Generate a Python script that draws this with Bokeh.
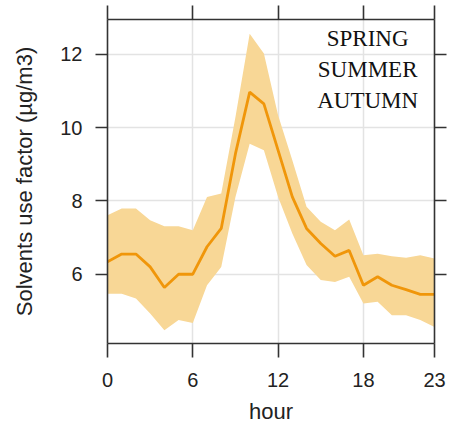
from bokeh.plotting import figure
from bokeh.models import LinearAxis, FixedTicker, Range1d, ColumnDataSource, Label, CustomJSTickFormatter
from bokeh.embed import file_html
from bokeh.resources import INLINE

hours = list(range(24))
mean_vals = [6.34, 6.55, 6.55, 6.2, 5.64, 6.0, 6.0, 6.75, 7.25, 9.29, 10.97, 10.65,
             9.38, 8.11, 7.25, 6.84, 6.49, 6.65, 5.7, 5.93, 5.7, 5.58, 5.45, 5.45]
upper_vals = [7.61, 7.79, 7.79, 7.47, 7.31, 7.31, 7.2, 8.11, 8.2, 10.29, 12.56, 12.02,
              10.34, 9.11, 7.84, 7.43, 7.2, 7.49, 6.52, 6.56, 6.49, 6.45, 6.52, 6.43]
lower_vals = [5.47, 5.47, 5.34, 4.93, 4.47, 4.75, 4.67, 5.7, 6.2, 8.11, 9.56, 9.38,
              8.11, 7.11, 6.25, 5.84, 5.79, 5.93, 5.2, 5.25, 4.88, 4.88, 4.75, 4.56]
x_ticks = [0, 6, 12, 18, 23]
y_ticks = [6, 8, 10, 12]
season_text = "SPRING\nSUMMER\nAUTUMN"

src = ColumnDataSource(dict(hour=hours, mean=mean_vals, upper=upper_vals, lower=lower_vals))

p = figure(width=450, height=440, output_backend="svg", toolbar_location=None,
           x_range=Range1d(0, 23), y_range=Range1d(4.11, 12.95),
           x_axis_location=None, y_axis_location=None,
           min_border_left=107, min_border_right=16, min_border_top=19, min_border_bottom=97)
p.outline_line_color = None
p.background_fill_color = "white"
p.border_fill_color = "white"

p.varea(x="hour", y1="lower", y2="upper", source=src, fill_color="#F8D796", fill_alpha=1.0)
p.line(x="hour", y="mean", source=src, line_color="#F0960A", line_width=2.8)

def mk_axis(ticks, show_labels, tick_out, standoff):
    ax = LinearAxis(ticker=FixedTicker(ticks=ticks))
    ax.axis_line_color = "#333333"
    ax.axis_line_width = 1.6
    ax.major_tick_line_color = "#333333"
    ax.major_tick_line_width = 1.6
    ax.major_tick_out = tick_out
    ax.major_tick_in = 0
    ax.minor_tick_line_color = None
    ax.major_label_text_font = "Liberation Sans"
    ax.major_label_text_color = "#222222"
    if show_labels:
        ax.major_label_text_font_size = "20px"
        ax.major_label_standoff = standoff
    else:
        ax.formatter = CustomJSTickFormatter(code="return '';")
        ax.major_label_text_font_size = "1px"
        ax.major_label_standoff = 0
    return ax

xb = mk_axis(x_ticks, True, 14, 15)
xb.axis_label = "hour"
xb.axis_label_text_font = "Liberation Sans"
xb.axis_label_text_font_size = "22px"
xb.axis_label_text_font_style = "normal"
xb.axis_label_text_color = "#222222"
xb.axis_label_standoff = 9
p.add_layout(xb, "below")

xt = mk_axis(x_ticks, False, 14, 0)
p.add_layout(xt, "above")

yl = mk_axis(y_ticks, True, 12, 13)
yl.axis_label = "Solvents use factor (\u00b5g/m3)"
yl.axis_label_text_font = "Liberation Sans"
yl.axis_label_text_font_size = "22px"
yl.axis_label_text_font_style = "normal"
yl.axis_label_text_color = "#222222"
yl.axis_label_standoff = 20
p.add_layout(yl, "left")

yr = mk_axis(y_ticks, False, 12, 0)
p.add_layout(yr, "right")

p.xgrid.ticker = FixedTicker(ticks=x_ticks)
p.ygrid.ticker = FixedTicker(ticks=y_ticks)
p.xgrid.grid_line_color = "#E3E3E3"
p.ygrid.grid_line_color = "#E3E3E3"
p.xgrid.grid_line_width = 1.5
p.ygrid.grid_line_width = 1.5

lab = Label(x=18.3, y=12.78, text=season_text, text_font="Liberation Serif",
            text_font_size="23px", text_align="center", text_baseline="top",
            text_color="#111111", text_line_height=1.25)
p.add_layout(lab)

open("out.html", "w").write(file_html(p, INLINE))
